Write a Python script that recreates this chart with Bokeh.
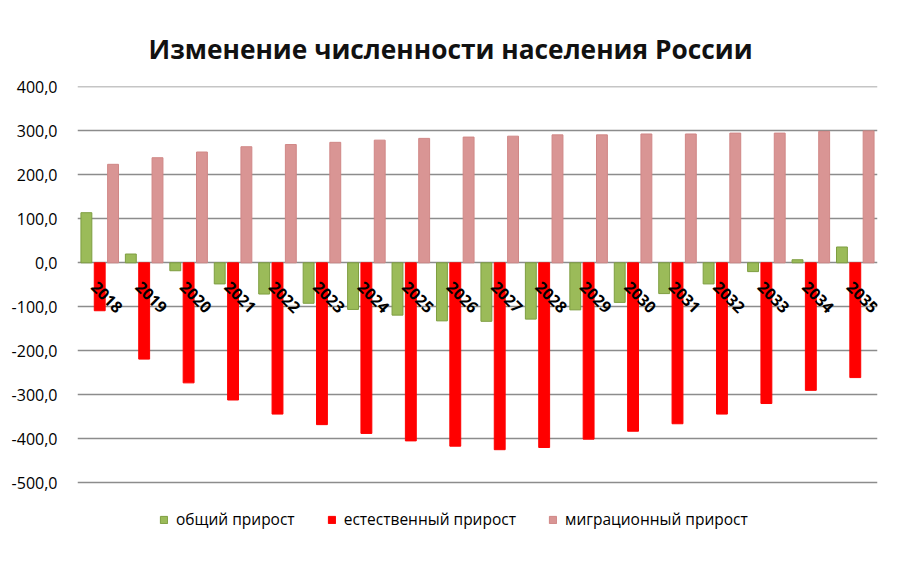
from bokeh.plotting import figure
from bokeh.models import Range1d, FixedTicker, Legend, LegendItem, ColumnDataSource, Title, CustomJSTickFormatter
from bokeh.transform import dodge
from bokeh.core.properties import value
from bokeh.embed import file_html
from bokeh.resources import INLINE

years = ["2018", "2019", "2020", "2021", "2022", "2023", "2024", "2025", "2026",
         "2027", "2028", "2029", "2030", "2031", "2032", "2033", "2034", "2035"]
total_growth = [114, 20, -18, -48, -71, -92, -106, -119, -132,
                -133, -128, -107, -90, -70, -48, -20, 7, 36]
natural_growth = [-109, -219, -273, -312, -344, -368, -388, -405, -417,
                  -425, -420, -401, -383, -366, -344, -320, -290, -261]
migration_growth = [224, 239, 252, 264, 269, 274, 279, 283, 286,
                    288, 291, 291, 293, 293, 295, 295, 299, 300]
y_ticks = [-500, -400, -300, -200, -100, 0, 100, 200, 300, 400]
series_names = ["общий прирост", "естественный прирост", "миграционный прирост"]

src = ColumnDataSource(dict(year=years, total=total_growth, natural=natural_growth,
                            migration=migration_growth, zero=[0] * len(years)))

W, H = 884, 566
# frame extends below the -500 line so that the legend can sit inside it
p = figure(width=W, height=H, x_range=years, y_range=Range1d(-677, 401),
           output_backend="svg", toolbar_location=None,
           min_border_left=77, min_border_right=7, min_border_top=86, min_border_bottom=6)
p.outline_line_color = None
p.background_fill_color = "white"
p.border_fill_color = "white"

p.title = Title(text="Изменение численности населения России", align="left",
                text_font="Open Sans", text_font_size="26.3px", text_font_style="bold",
                text_color="#111111", offset=71, standoff=39)

bw = 0.245
r1 = p.vbar(x=dodge("year", -0.3, range=p.x_range), top="total", bottom=0, width=bw, source=src,
            fill_color="#9BBB59", line_color="#7E9E40", line_width=1)
r2 = p.vbar(x=dodge("year", 0.0, range=p.x_range), top="natural", bottom=0, width=bw, source=src,
            fill_color="#FF0000", line_color="#FF0000", line_width=1)
r3 = p.vbar(x=dodge("year", 0.3, range=p.x_range), top="migration", bottom=0, width=bw, source=src,
            fill_color="#D99594", line_color="#D08786", line_width=1)

# category labels at the zero line, rotated
p.text(x=dodge("year", -0.03, range=p.x_range), y="zero", text="year", source=src,
       angle=-0.785398, text_align="left", text_baseline="top", y_offset=17,
       text_font=value("Open Sans"), text_font_size="16px", text_font_style="bold",
       text_color="black")

p.xaxis.visible = False
p.xgrid.visible = False
p.yaxis.ticker = FixedTicker(ticks=y_ticks)
p.yaxis.formatter = CustomJSTickFormatter(code="return tick.toFixed(1).replace('.', ',');")
p.yaxis.axis_line_color = None
p.yaxis.major_tick_line_color = None
p.yaxis.minor_tick_line_color = None
p.yaxis.major_label_standoff = 14
p.yaxis.major_label_text_font = "Open Sans"
p.yaxis.major_label_text_font_size = "16px"
p.yaxis.major_label_text_color = "black"
p.ygrid.ticker = FixedTicker(ticks=y_ticks)
p.ygrid.grid_line_color = "#8C8C8C"
p.ygrid.grid_line_width = 1.5

legend = Legend(items=[LegendItem(label=series_names[0], renderers=[r1]),
                       LegendItem(label=series_names[1], renderers=[r2]),
                       LegendItem(label=series_names[2], renderers=[r3])],
                orientation="horizontal", location=(82, 30), padding=0, margin=0,
                spacing=32, glyph_width=9, glyph_height=9, label_standoff=8,
                label_text_font="Open Sans", label_text_font_size="15.5px",
                label_text_color="black", border_line_color=None,
                background_fill_alpha=0)
p.add_layout(legend, "center")

open("out.html", "w").write(file_html(p, INLINE))
